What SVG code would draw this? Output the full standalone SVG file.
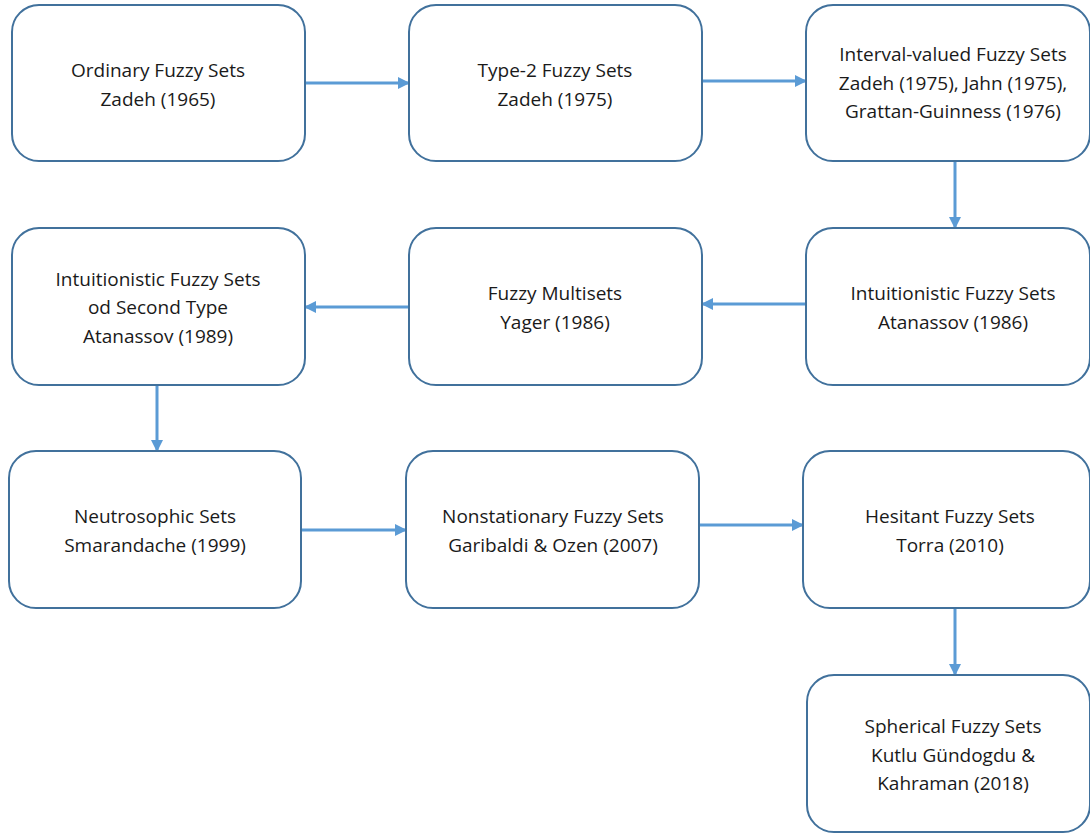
<svg xmlns="http://www.w3.org/2000/svg" width="1090" height="837" viewBox="0 0 1090 837">
<style>
.box{fill:#fff;stroke:#41719C;stroke-width:2}
.t{font-family:"Open Sans","Liberation Sans",sans-serif;font-size:19px;fill:#1a1a1a;text-anchor:middle}
.c{stroke:#5B9BD5;stroke-width:3;fill:none;marker-end:url(#ah)}
</style>
<defs>
<marker id="ah" markerUnits="userSpaceOnUse" markerWidth="12" markerHeight="12" refX="11" refY="6" orient="auto">
<path d="M0,0 L12,6 L0,12 Z" fill="#5B9BD5"/>
</marker>
</defs>
<rect width="1090" height="837" fill="#fff"/>
<g id="connectors">
<line class="c" x1="305" y1="83" x2="409" y2="83"/>
<line class="c" x1="702" y1="81" x2="806" y2="81"/>
<line class="c" x1="955" y1="161" x2="955" y2="228"/>
<line class="c" x1="806" y1="304" x2="702" y2="304"/>
<line class="c" x1="409" y1="307" x2="305" y2="307"/>
<line class="c" x1="157" y1="385" x2="157" y2="451"/>
<line class="c" x1="301" y1="530" x2="406" y2="530"/>
<line class="c" x1="699" y1="525" x2="803" y2="525"/>
<line class="c" x1="955" y1="608" x2="955" y2="675"/>
</g>
<g id="n1"><rect class="box" x="12" y="5" width="293" height="156" rx="27"/>
<text class="t" x="158" y="77">Ordinary Fuzzy Sets</text><text class="t" x="158" y="106">Zadeh (1965)</text></g>
<g id="n2"><rect class="box" x="409" y="5" width="293" height="156" rx="27"/>
<text class="t" x="555" y="77">Type-2 Fuzzy Sets</text><text class="t" x="555" y="106">Zadeh (1975)</text></g>
<g id="n3"><rect class="box" x="806" y="5" width="284" height="156" rx="27"/>
<text class="t" x="953" y="61">Interval-valued Fuzzy Sets</text><text class="t" x="953" y="90">Zadeh (1975), Jahn (1975),</text><text class="t" x="953" y="118">Grattan-Guinness (1976)</text></g>
<g id="n4"><rect class="box" x="12" y="228" width="293" height="157" rx="27"/>
<text class="t" x="158" y="286">Intuitionistic Fuzzy Sets</text><text class="t" x="158" y="314">od Second Type</text><text class="t" x="158" y="343">Atanassov (1989)</text></g>
<g id="n5"><rect class="box" x="409" y="228" width="293" height="157" rx="27"/>
<text class="t" x="555" y="300">Fuzzy Multisets</text><text class="t" x="555" y="329">Yager (1986)</text></g>
<g id="n6"><rect class="box" x="806" y="228" width="284" height="157" rx="27"/>
<text class="t" x="953" y="300">Intuitionistic Fuzzy Sets</text><text class="t" x="953" y="329">Atanassov (1986)</text></g>
<g id="n7"><rect class="box" x="9" y="451" width="292" height="157" rx="27"/>
<text class="t" x="155" y="523">Neutrosophic Sets</text><text class="t" x="155" y="552">Smarandache (1999)</text></g>
<g id="n8"><rect class="box" x="406" y="451" width="293" height="157" rx="27"/>
<text class="t" x="553" y="523">Nonstationary Fuzzy Sets</text><text class="t" x="553" y="552">Garibaldi &amp; Ozen (2007)</text></g>
<g id="n9"><rect class="box" x="803" y="451" width="287" height="157" rx="27"/>
<text class="t" x="950" y="523">Hesitant Fuzzy Sets</text><text class="t" x="950" y="552">Torra (2010)</text></g>
<g id="n10"><rect class="box" x="807" y="675" width="283" height="157" rx="27"/>
<text class="t" x="953" y="733">Spherical Fuzzy Sets</text><text class="t" x="953" y="762">Kutlu Gündogdu &amp;</text><text class="t" x="953" y="790">Kahraman (2018)</text></g>
</svg>
